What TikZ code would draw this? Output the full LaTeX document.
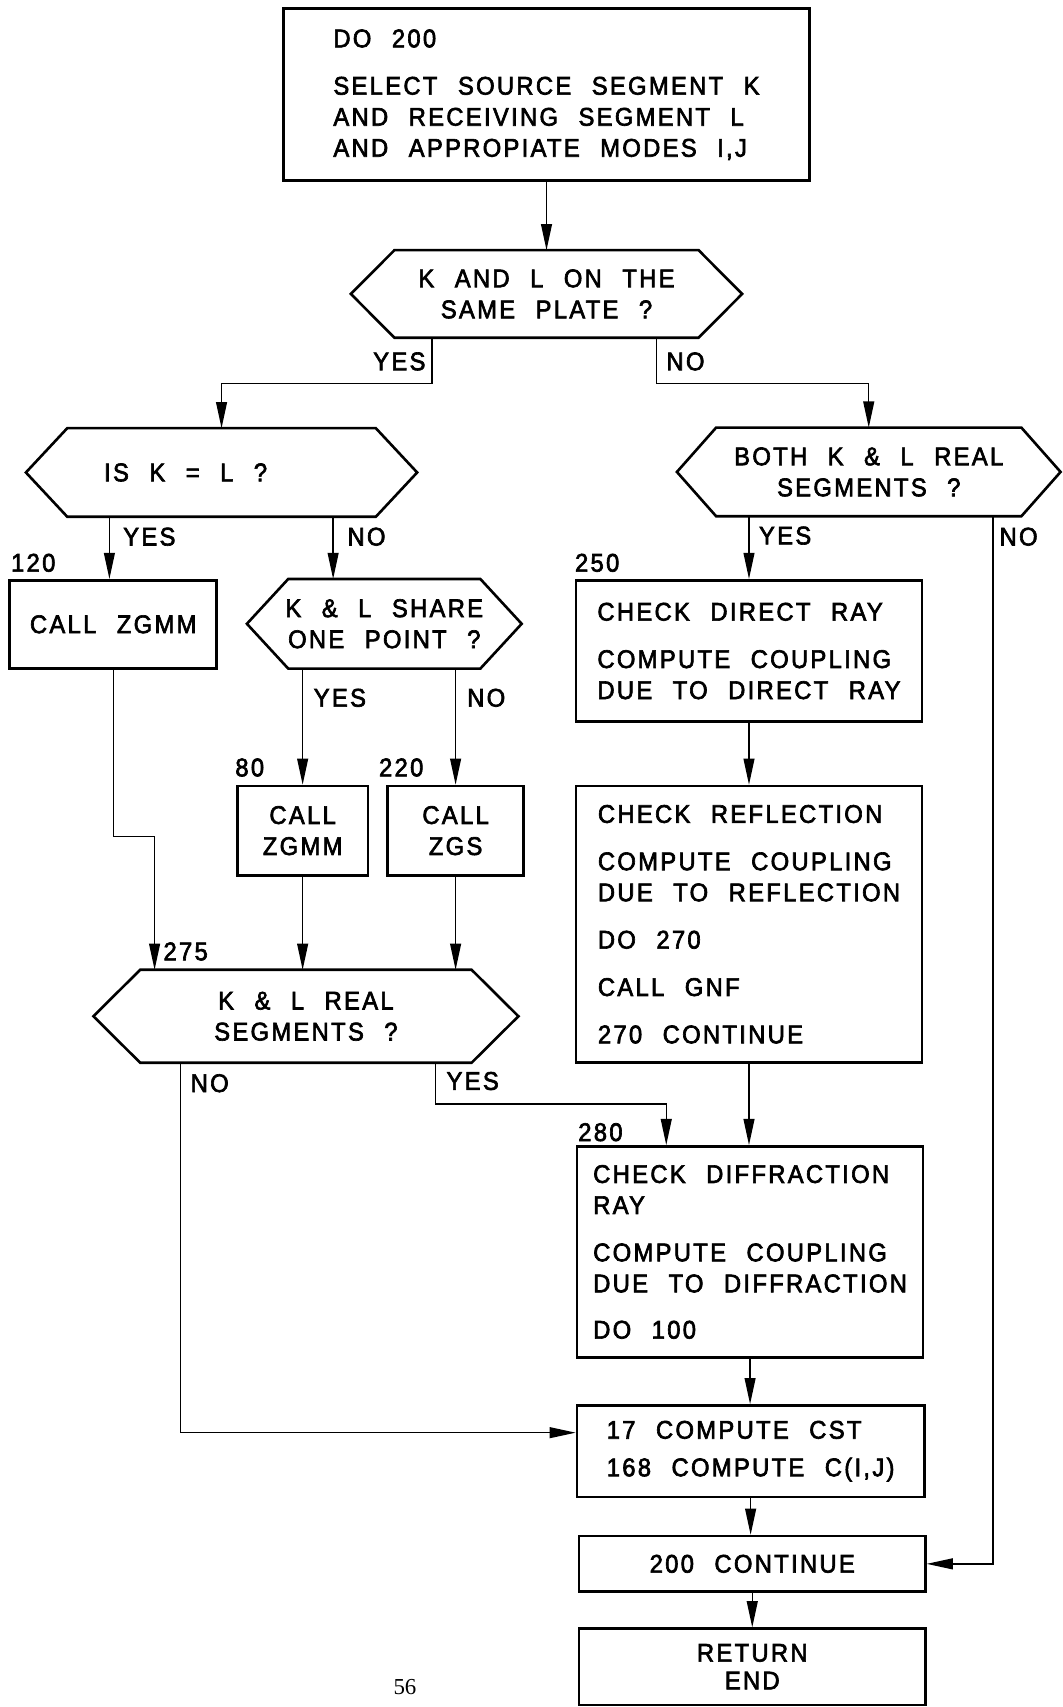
\documentclass[tikz,border=0pt]{standalone}
\usepackage{fontspec}
\setmainfont[FakeStretch=0.93,LetterSpace=9,WordSpace=2.3,FakeBold=2.5]{Liberation Sans}
\newfontfamily\pagefont{Liberation Serif}
\usetikzlibrary{arrows.meta}
\newcommand{\hexline}[2]{\draw[boxline] ([xshift=#2]#1.north west) -- ([xshift=-#2]#1.north east) -- (#1.east) -- ([xshift=-#2]#1.south east) -- ([xshift=#2]#1.south west) -- (#1.west) -- cycle;}
\begin{document}
\begin{tikzpicture}[x=1pt,y=-1pt,
  every node/.style={font=\fontsize{23.5}{28.5}\selectfont},
  boxline/.style={line width=2.4pt, line join=miter},
  box/.style={draw, boxline, rectangle, align=left, inner sep=0pt},
  hexn/.style={rectangle, align=center, inner sep=0pt},
  conn/.style={line width=1.3pt},
  arr/.style={conn, -{Triangle[length=24pt,width=10pt]}},
  lbl/.style={anchor=west, inner sep=0pt}
]
\useasboundingbox (0,0) rectangle (976,1568);
\fill[white] (0,0) rectangle (976,1568);

% boxes
\node[box, minimum width=483pt, minimum height=158pt] (top) at (502,87)
  {DO 200\\[15pt]SELECT SOURCE SEGMENT K\\AND RECEIVING SEGMENT L\\AND APPROPIATE MODES I,J};

\node[hexn, minimum width=359pt, minimum height=80pt] (h1) at (502,270) {K AND L ON THE\\SAME PLATE ?};
\hexline{h1}{40pt}

\node[hexn, minimum width=359pt, minimum height=81pt] (h2) at (203.5,434) {IS K = L ?\hspace*{66pt}};
\hexline{h2}{38pt}

\node[hexn, minimum width=352pt, minimum height=81pt] (h3) at (798,433.5) {BOTH K \& L REAL\\SEGMENTS ?};
\hexline{h3}{36pt}

\node[box, align=center, minimum width=190pt, minimum height=81pt] (b120) at (104,573.5) {CALL ZGMM};

\node[hexn, minimum width=252pt, minimum height=82pt] (h4) at (353,573) {K \& L SHARE\\ONE POINT ?};
\hexline{h4}{38pt}

\node[box, minimum width=318pt, minimum height=130pt] (b250) at (688,598)
  {CHECK DIRECT RAY\\[15pt]COMPUTE COUPLING\\DUE TO DIRECT RAY};

\node[box, align=center, minimum width=120pt, minimum height=82pt] (b80) at (278,763) {CALL\\ZGMM};
\node[box, align=center, minimum width=125pt, minimum height=82pt] (b220) at (418.5,763) {CALL\\ZGS};

\node[box, minimum width=318pt, minimum height=254pt] (brefl) at (688,849)
  {CHECK REFLECTION\\[15pt]COMPUTE COUPLING\\DUE TO REFLECTION\\[15pt]DO 270\\[15pt]CALL GNF\\[15pt]270 CONTINUE};

\node[hexn, minimum width=390pt, minimum height=85pt] (h5) at (281,933.5) {K \& L REAL\\SEGMENTS ?};
\hexline{h5}{43pt}

\node[box, minimum width=318pt, minimum height=194pt] (b280) at (689,1150)
  {CHECK DIFFRACTION\\RAY\\[15pt]COMPUTE COUPLING\\DUE TO DIFFRACTION\\[14pt]DO 100};

\node[box, minimum width=319pt, minimum height=84pt] (b17) at (689.5,1333)
  {17 COMPUTE CST\\[6pt]168 COMPUTE C(I,J)};

\node[box, align=center, minimum width=318pt, minimum height=51pt] (b200) at (691,1436.5) {200 CONTINUE};

\node[box, align=center, minimum width=318pt, minimum height=70pt] (bret) at (691,1531) {RETURN\\[-3pt]END};

% connectors
\draw[arr] (top.south) -- (h1.north);
\draw[arr] ([xshift=-105pt]h1.south) -- ++(0,42) -| (h2.north);
\draw[arr] ([xshift=101pt]h1.south) -- ++(0,42) -| (h3.north);
\draw[arr] ([xshift=-103pt]h2.south) -- ([xshift=-103pt]h2.south |- b120.north);
\draw[arr] ([xshift=102.5pt]h2.south) -- ([xshift=102.5pt]h2.south |- h4.north);
\draw[arr] (b250.north |- h3.south) -- (b250.north);
\draw[arr] ([xshift=114pt]h3.south) |- (b200.east);
\draw[arr] (b80.north |- h4.south) -- (b80.north);
\draw[arr] (b220.north |- h4.south) -- (b220.north);
\draw[arr] (b120.south) -- ++(0,153) -| ([xshift=-139pt]h5.north);
\draw[arr] (b80.south) -- (b80.south |- h5.north);
\draw[arr] (b220.south) -- (b220.south |- h5.north);
\draw[arr] (b250.south) -- (brefl.north);
\draw[arr] (brefl.south) -- (brefl.south |- b280.north);
\draw[arr] ([xshift=119pt]h5.south) -- ++(0,38) -| ([xshift=-77pt]b280.north);
\draw[arr] ([xshift=-115pt]h5.south) |- ([yshift=17pt]b17.west);
\draw[arr] (b280.south) -- (b280.south |- b17.north);
\draw[arr] (b17.south) -- (b17.south |- b200.north);
\draw[arr] (b200.south) -- (b200.south |- bret.north);

% labels
\node[lbl, anchor=east] (l1) at (391,332) {YES};
\node[lbl] (l2) at (612,332) {NO};
\node[lbl] (l3) at (113,493) {YES};
\node[lbl] (l4) at (319,493) {NO};
\node[lbl] (l5) at (10,517) {120};
\node[lbl] (l6) at (697,492) {YES};
\node[lbl] (l7) at (918,493) {NO};
\node[lbl] (l8) at (528,517) {250};
\node[lbl] (l9) at (288,641) {YES};
\node[lbl] (l10) at (429,641) {NO};
\node[lbl] (l11) at (216,705) {80};
\node[lbl] (l12) at (348,705) {220};
\node[lbl] (l13) at (150,874) {275};
\node[lbl] (l14) at (175,995) {NO};
\node[lbl] (l15) at (410,993) {YES};
\node[lbl] (l16) at (531,1040) {280};
\node[font=\pagefont\fontsize{21}{24}\selectfont] (pg) at (372,1550) {56};
\end{tikzpicture}
\end{document}
